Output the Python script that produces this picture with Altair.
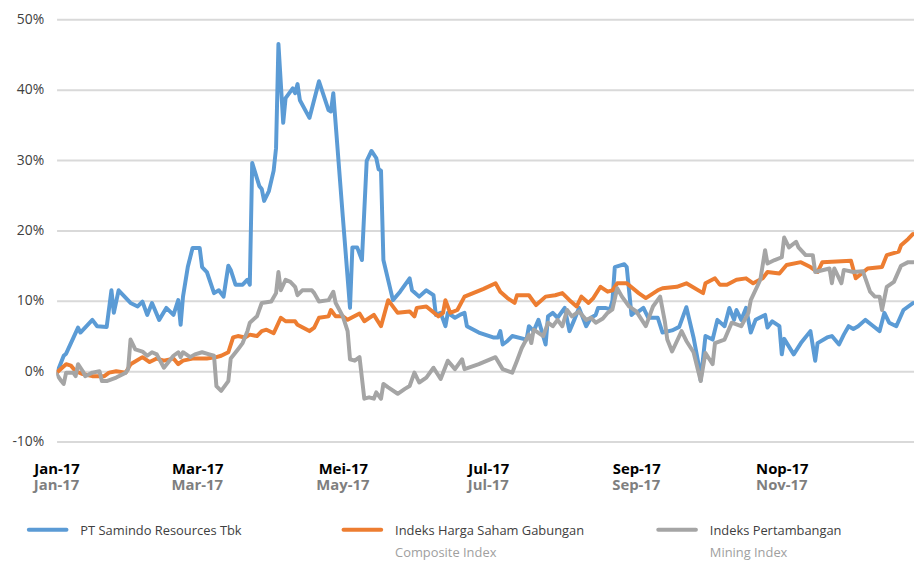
import json
import altair as alt
import pandas as pd

# ---------------- data (day offset from 1 Jan 2017, return in %) ----------------
names = ["PT Samindo Resources Tbk", "Indeks Harga Saham Gabungan", "Indeks Pertambangan"]
subtitles = ["", "Composite Index", "Mining Index"]
colors = ["#5B9BD5", "#ED7D31", "#A5A5A5"]

samindo_days = [0, 3, 4, 9, 10, 15, 17, 21, 23, 24, 26, 31, 34, 36, 38, 40, 43, 46, 49, 51, 52, 53, 55, 57,
                60, 61, 63, 66, 68, 70, 72, 73, 75, 78, 80, 81, 82, 83, 85, 86, 87, 89, 91, 92, 93, 95, 96,
                99, 100, 101, 102, 106, 110, 114, 115, 116, 120, 123, 124, 126, 128, 130, 132, 134, 135,
                136, 137, 141, 144, 148, 149, 152, 155, 158, 159, 161, 163, 164, 167, 169, 171, 172, 177,
                183, 185, 186, 187, 189, 191, 197, 198, 200, 202, 205, 206, 208, 210, 213, 215, 217, 219,
                222, 224, 226, 227, 230, 232, 233, 234, 236, 238, 239, 241, 242, 244, 246, 248, 252, 254,
                258, 261, 264, 267, 269, 270, 272, 275, 277, 280, 282, 284, 285, 287, 289, 291, 293, 297,
                298, 300, 303, 304, 305, 309, 312, 316, 318, 319, 323, 325, 328, 330, 332, 334, 336, 339,
                342, 345, 347, 349, 352, 355, 359]
samindo_vals = [-0.4, 2.2, 2.5, 6.2, 5.5, 7.3, 6.4, 6.3, 11.5, 8.3, 11.5, 9.7, 9.2, 9.9, 8.0, 9.7, 7.3, 9.0,
                8.0, 10.1, 6.6, 10.6, 14.8, 17.5, 17.5, 14.8, 14.1, 11.1, 11.5, 10.6, 15.0, 14.4, 12.3,
                12.3, 13.0, 12.3, 29.6, 28.5, 26.3, 25.9, 24.2, 25.6, 28.5, 31.7, 46.5, 35.3, 38.8, 40.2,
                39.5, 40.8, 38.5, 36.0, 41.2, 37.1, 36.9, 39.5, 21.9, 9.0, 17.6, 17.6, 15.8, 29.9, 31.3,
                30.3, 28.7, 28.5, 15.8, 10.1, 11.3, 13.2, 11.5, 10.6, 11.5, 10.8, 8.0, 8.3, 6.4, 8.3, 7.6,
                8.0, 8.3, 6.4, 5.5, 4.8, 4.8, 5.7, 3.8, 4.3, 5.0, 4.5, 6.4, 5.7, 7.3, 3.8, 7.8, 8.3, 7.6,
                9.0, 5.7, 7.3, 9.0, 6.4, 7.6, 8.0, 9.0, 9.0, 8.8, 10.0, 14.8, 15.0, 15.2, 14.8, 8.0, 8.3,
                8.5, 9.0, 7.6, 7.6, 5.5, 5.8, 6.3, 9.1, 4.8, 1.2, -1.3, 5.0, 4.5, 7.3, 6.4, 9.0, 7.3, 8.7,
                7.3, 9.0, 5.5, 7.3, 8.0, 6.2, 7.1, 6.4, 2.4, 4.6, 2.4, 4.0, 5.7, 1.5, 4.0, 4.8, 5.0, 3.8,
                5.2, 6.4, 6.0, 6.4, 7.3, 6.5, 5.7, 8.3, 6.9, 6.4, 8.7, 9.7]

ihsg_days = [0, 4, 6, 8, 11, 15, 20, 22, 25, 29, 31, 36, 39, 42, 45, 49, 51, 53, 57, 63, 67, 69, 72, 74,
             76, 79, 81, 84, 86, 88, 91, 94, 96, 100, 101, 106, 108, 110, 114, 115, 117, 120, 122, 127,
             129, 133, 136, 139, 143, 148, 150, 151, 155, 160, 162, 163, 165, 168, 171, 179, 184, 186,
             189, 192, 193, 198, 201, 205, 209, 212, 215, 218, 220, 223, 225, 228, 231, 233, 235, 239,
             244, 247, 252, 254, 260, 264, 271, 272, 276, 278, 281, 285, 289, 292, 296, 298, 303, 306,
             312, 316, 319, 321, 333, 335, 340, 346, 348, 353, 354, 357, 359]
ihsg_vals = [-0.2, 1.0, 0.8, 0.0, -0.4, -0.7, -0.7, -0.2, 0.0, -0.2, 1.0, 2.0, 1.3, 1.8, 1.5, 1.8, 1.0,
             1.5, 1.8, 1.8, 2.0, 2.2, 2.7, 4.8, 5.0, 4.8, 5.2, 5.0, 5.7, 5.9, 5.4, 7.6, 7.1, 7.1, 6.6, 5.7,
             6.2, 7.6, 7.8, 8.7, 7.8, 7.8, 7.3, 8.2, 7.1, 8.0, 6.4, 10.1, 8.3, 8.5, 7.8, 9.0, 9.2, 7.8,
             8.3, 10.1, 8.3, 8.7, 10.6, 11.7, 12.5, 11.3, 10.4, 9.7, 10.8, 10.8, 9.4, 10.6, 10.8, 11.1,
             10.1, 9.2, 10.6, 9.7, 10.4, 12.0, 11.3, 11.5, 12.5, 12.5, 11.1, 10.4, 11.5, 11.8, 12.0, 12.5,
             11.1, 12.5, 13.2, 12.3, 12.3, 13.0, 13.2, 12.5, 13.2, 14.1, 13.9, 15.1, 15.5, 14.8, 14.1,
             15.5, 15.7, 13.2, 14.6, 14.8, 16.5, 17.0, 17.9, 18.8, 19.5]

mining_days = [0, 2, 3, 4, 7, 8, 9, 11, 12, 15, 18, 19, 21, 25, 29, 30, 31, 33, 36, 38, 40, 42, 45, 49,
               51, 52, 53, 56, 58, 61, 64, 66, 67, 69, 72, 73, 76, 78, 80, 81, 84, 86, 90, 92, 93, 94, 96,
               98, 100, 101, 103, 107, 108, 110, 114, 116, 117, 120, 122, 123, 125, 127, 129, 131, 133,
               134, 136, 137, 139, 143, 146, 148, 150, 152, 155, 158, 161, 164, 167, 170, 171, 177, 184,
               187, 191, 193, 195, 198, 199, 200, 204, 206, 208, 210, 212, 214, 216, 219, 222, 224, 226,
               229, 231, 233, 235, 237, 240, 243, 247, 250, 253, 255, 256, 258, 262, 264, 267, 270, 272,
               275, 276, 280, 283, 287, 290, 291, 295, 297, 298, 301, 304, 305, 307, 310, 311, 314, 317,
               318, 324, 325, 326, 329, 330, 334, 338, 341, 343, 345, 346, 348, 351, 354, 357, 359]
mining_vals = [-0.4, -1.4, -1.8, -0.2, -0.2, -0.7, 1.0, 0.0, -0.7, -0.2, 0.0, -1.4, -1.4, -0.9, -0.2, 0.3,
               4.5, 3.1, 2.8, 2.2, 2.7, 2.4, 0.5, 2.2, 2.7, 2.0, 2.7, 2.0, 2.4, 2.7, 2.4, 2.2, -2.1, -2.8,
               -1.4, 1.8, 3.1, 4.0, 5.7, 6.9, 7.8, 9.7, 9.9, 11.1, 14.1, 11.5, 13.0, 12.7, 12.0, 10.8,
               11.5, 11.5, 11.1, 9.9, 10.1, 11.3, 9.7, 7.8, 5.7, 1.7, 1.5, 2.0, -3.9, -3.7, -3.9, -3.0,
               -3.9, -1.8, -2.3, -3.2, -2.5, -2.1, -0.2, -1.6, -0.9, 0.5, -1.1, 1.5, 0.3, 1.7, 0.3, 1.0,
               2.0, 0.3, -0.2, 1.5, 3.3, 5.2, 4.0, 5.9, 5.0, 6.9, 6.4, 7.3, 6.4, 8.7, 7.8, 8.5, 7.3, 7.6,
               6.9, 7.5, 8.3, 8.8, 11.8, 10.6, 9.2, 8.5, 6.4, 9.2, 10.6, 7.0, 4.5, 2.8, 5.7, 4.3, 2.7,
               -1.4, 2.6, 1.0, 4.0, 4.5, 6.9, 6.4, 8.3, 10.1, 13.0, 17.2, 15.3, 15.8, 16.2, 19.0, 17.6,
               18.4, 17.6, 16.5, 16.5, 14.1, 14.6, 12.5, 14.6, 12.5, 14.4, 14.1, 14.2, 11.3, 10.6, 10.6,
               8.7, 12.0, 12.7, 15.0, 15.5, 15.5]

tick_months = [1, 3, 5, 7, 9, 11]
month_labels_id = ["Jan-17", "Feb-17", "Mar-17", "Apr-17", "Mei-17", "Jun-17",
                   "Jul-17", "Agu-17", "Sep-17", "Okt-17", "Nop-17", "Des-17"]
tick_labels_en = ["Jan-17", "Mar-17", "May-17", "Jul-17", "Sep-17", "Nov-17"]
y_ticks = [-10, 0, 10, 20, 30, 40, 50]

# ---------------- tables ----------------
start = pd.Timestamp("2017-01-01")


def iso(d):
    return (start + pd.Timedelta(days=d)).strftime("%Y-%m-%dT%H:%M:%S")


rows = []
for name, days, vals in zip(names, [samindo_days, ihsg_days, mining_days],
                            [samindo_vals, ihsg_vals, mining_vals]):
    for d, v in zip(days, vals):
        rows.append({"date": iso(d), "value": v, "series": name})
df = pd.DataFrame(rows)

ticks_df = pd.DataFrame({
    "date": [pd.Timestamp(2017, m, 1).strftime("%Y-%m-%dT%H:%M:%S") for m in tick_months],
    "label": tick_labels_en,
})
legend_df = pd.DataFrame({"series": names, "sub": subtitles})

FONT = "Open Sans"
W, H = 865, 426
xscale = alt.Scale(domain=[alt.DateTime(year=2017, month=1, date=1),
                           alt.DateTime(year=2017, month=12, date=26, hours=10)])
cscale = alt.Scale(domain=names, range=colors)

label_expr = json.dumps(month_labels_id) + "[month(datum.value)]"

lines = alt.Chart(df).mark_line(strokeWidth=4, strokeJoin="round", strokeCap="round", clip=True).encode(
    x=alt.X("date:T", scale=xscale, axis=alt.Axis(
        title=None, values=[alt.DateTime(year=2017, month=m, date=1) for m in tick_months],
        labelExpr=label_expr, grid=False, domain=False, ticks=False, tickSize=0,
        labelFont=FONT, labelFontSize=15, labelFontWeight="bold", labelColor="#000000",
        labelPadding=20, labelOverlap=False, labelFlush=False, labelBound=False)),
    y=alt.Y("value:Q", scale=alt.Scale(domain=[-10, 50], nice=False, zero=False), axis=alt.Axis(
        title=None, values=y_ticks, labelExpr="datum.value + '%'", domain=False, ticks=False,
        grid=True, gridColor="#D9D9D9", gridWidth=2, labelFlush=False,
        labelFont=FONT, labelFontSize=14, labelColor="#404040", labelPadding=13)),
    color=alt.Color("series:N", scale=cscale, legend=None),
    detail="series:N",
)

en_row = alt.Chart(ticks_df).mark_text(
    font=FONT, fontSize=15, fontWeight="bold", color="#7F7F7F", align="center", baseline="alphabetic"
).encode(
    x=alt.X("date:T", scale=xscale),
    y=alt.value(H + 49),
    text="label:N",
)

inner = alt.layer(lines, en_row)

lx = alt.X("series:N", scale=alt.Scale(domain=names, range=[24, 659], padding=0), axis=None)
swatch = alt.Chart(legend_df).mark_point(
    shape="M-1,0L1,0", size=1444, filled=False, strokeWidth=4, strokeCap="round", opacity=1, xOffset=-33
).encode(
    x=lx,
    y=alt.value(H + 89),
    color=alt.Color("series:N", scale=cscale, legend=None),
)
leg_name = alt.Chart(legend_df).mark_text(
    font=FONT, fontSize=13, color="#404040", align="left", baseline="alphabetic"
).encode(x=lx, y=alt.value(H + 94), text="series:N")
leg_sub = alt.Chart(legend_df).mark_text(
    font=FONT, fontSize=13, color="#A0A0A0", align="left", baseline="alphabetic"
).encode(x=lx, y=alt.value(H + 116), text="sub:N")

legend = alt.layer(swatch, leg_name, leg_sub)

chart = alt.layer(inner, legend).resolve_scale(x="independent").properties(
    width=W, height=H,
    autosize=alt.AutoSizeParams(type="none"),
    padding={"left": 49, "top": 9, "right": 0, "bottom": 119},
).configure_view(stroke=None)

chart.save("out.html", embed_options={"renderer": "svg", "actions": False})
